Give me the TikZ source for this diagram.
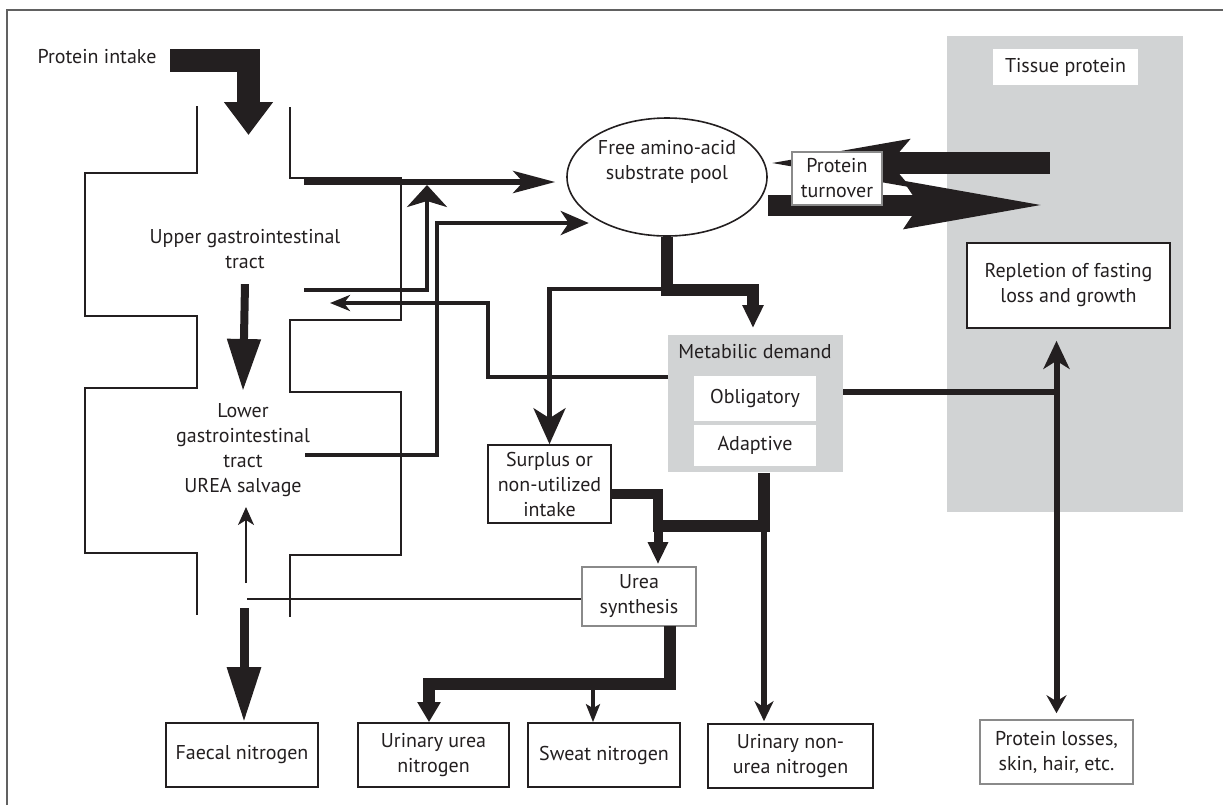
\documentclass[tikz,border=0pt]{standalone}
\usepackage{fontspec}
\setmainfont{PT Sans}
\usepackage{xcolor}
\usetikzlibrary{
    arrows.meta,
    calc,
    shapes.geometric,
    positioning
}
\definecolor{ink}{HTML}{231F20}
\definecolor{panel}{HTML}{D1D3D4}
\definecolor{rim}{HTML}{8A8A8A}
\tikzset{
    box/.style={draw=ink, line width=0.8pt, fill=white, align=center, inner sep=1pt, text=ink},
    softbox/.style={box, draw=rim},
    tag/.style={align=center, text=ink, inner sep=0pt},
    flow/.style={draw=ink, line width=2.2pt},
    heavy/.style={draw=ink, line width=6pt},
    tract/.style={draw=ink, line width=0.8pt}
}

\begin{document}
\begin{tikzpicture}[x=0.5pt, y=-0.5pt, font=\fontsize{10}{12.5}\selectfont]
    \useasboundingbox (0,0) rectangle (1223,805);
    \draw[rim!70!black, line width=1pt] (7,805) -- (7,10) -- (1223,10);

    % panels
    \node[fill=panel, anchor=north west, minimum width=118pt, minimum height=238pt] (tissue) at (947,36) {};
    \node[fill=white, minimum width=72.5pt, minimum height=18pt, text=ink] (tisslab) at (1065.5,67) {Tissue protein};
    \node[fill=panel, anchor=north west, minimum width=87.5pt, minimum height=68.5pt] (metab) at (668,335) {};
    \node[tag] (metlab) at (755,352) {Metabilic demand};
    \node[fill=white, minimum width=61pt, minimum height=22.5pt, text=ink] (oblig) at (755,398.5) {Obligatory};
    \node[fill=white, minimum width=61pt, minimum height=20.5pt, text=ink] (adapt) at (755,445.5) {Adaptive};

    % gut
    \draw[tract] (197,106) |- (85,173) |- (197,316) |- (85,388) |- (197,553) -- (197,615);
    \draw[tract] (290,107) |- (401,178) |- (290,320) |- (401,392) |- (290,555) -- (290,617);
    \node[tag] (intake) at (97,57) {Protein intake};
    \node[tag] (upper) at (245,249) {Upper gastrointestinal\\tract};
    \node[tag] (lower) at (243,450) {Lower\\gastrointestinal\\tract\\UREA salvage};

    % boxes
    \node[ellipse, draw=ink, line width=0.8pt, minimum width=100pt, minimum height=59pt, inner sep=0pt, align=center, text=ink] (pool) at (667,177) {Free amino-acid\\substrate pool\\[5pt]};
    \node[box, minimum width=101.5pt, minimum height=42.5pt] (replete) at (1068.5,285.5) {Repletion of fasting\\loss and growth};
    \node[box, minimum width=61.5pt, minimum height=39pt] (surplus) at (549.5,484) {Surplus or\\non-utilized\\intake};
    \node[softbox, minimum width=57pt, minimum height=29.5pt] (urea) at (639,596.5) {Urea\\synthesis};
    \node[box, minimum width=76pt, minimum height=32pt] (faecal) at (242,755) {Faecal nitrogen};
    \node[box, minimum width=75.5pt, minimum height=32pt] (urinary) at (433.5,755) {Urinary urea\\nitrogen};
    \node[box, minimum width=76pt, minimum height=32pt] (sweat) at (604,755) {Sweat nitrogen};
    \node[box, minimum width=82.5pt, minimum height=32pt] (nonurea) at (790.5,756) {Urinary non-\\urea nitrogen};
    \node[softbox, minimum width=76.5pt, minimum height=32pt] (losses) at (1056.5,752) {Protein losses,\\skin, hair, etc.};

    % bends and free ends
    \coordinate (inA) at (170,60.5);
    \coordinate (gitop) at (248.5,135);
    \coordinate (ugA) at (304,182);
    \coordinate (ugB) at (304,290);
    \coordinate (ugJ) at (427,185);
    \coordinate (lgA) at (305,455);
    \coordinate (lgB) at (437,223);
    \coordinate (mA) at (668,377);
    \coordinate (ugRet) at (488,303);
    \coordinate (ugIn) at (330,303);
    \coordinate (metA) at (753,290);
    \coordinate (fork) at (664,289);
    \coordinate (oblOut) at (843,392);
    \coordinate (spA) at (611,494);
    \coordinate (spB) at (658,526);
    \coordinate (merge) at (764,526);
    \coordinate (mergeL) at (653,526);
    \coordinate (salv) at (247,599);
    \coordinate (saUp) at (246,583);
    \coordinate (saDn) at (244,608);
    \coordinate (ureaOut) at (670,626);
    \coordinate (uBend) at (429,684);
    \coordinate (swTop) at (593,684);
    \coordinate (tisL) at (1050,163);
    \coordinate (tisR) at (1048,205);

    % intake into the gut
    \draw[ink, line width=11.5pt, -{Triangle[width=23.5pt,length=16.5pt]}] (inA) -| (gitop);
    \draw[ink, line width=4pt, -{Triangle[width=16pt,length=26pt]}] ([yshift=-7.5pt]upper.south) -- ([yshift=6pt]lower.north);

    % absorption to the pool
    \draw[flow, line width=2.8pt, shorten >=5.5pt, -{Stealth[length=21pt,width=11pt,inset=5pt]}] (ugA) -- (ugA -| pool.west);
    \draw[flow, -{Stealth[length=11pt,width=20pt,inset=3pt]}] (ugB) -| (ugJ);
    \draw[flow, shorten >=3pt, -{Stealth[length=14pt,width=12pt,inset=4pt]}] (lgA) -| (lgB) -- (lgB -| pool.210);
    \draw[flow, line width=2.3pt, -{Stealth[length=10pt,width=8pt,inset=3pt]}] (mA) -| (ugRet) -- (ugIn);

    % protein turnover
    \draw[ink, line width=11pt, {Stealth[length=70pt,width=22pt,inset=8pt]}-] (pool.8 |- tisL) -- (tisL);
    \draw[ink, line width=10.5pt, -{Stealth[length=70pt,width=22pt,inset=6pt]}] (pool.east |- tisR) -- (tisR);
    \node[softbox, minimum width=45pt, minimum height=26.5pt] (turn) at (837,178.5) {Protein\\turnover};

    % pool to demand and surplus
    \draw[heavy, shorten >=3.5pt, -{Triangle[width=10pt,length=11.5pt]}] (pool.south) |- (metA) -- (metA |- metab.north);
    \draw[flow, -{Stealth[length=18pt,width=16pt,inset=5pt]}] (fork) -| (surplus.north);
    \draw[flow, line width=3pt] (oblOut) -- (oblOut -| losses.north);
    \draw[flow, line width=3pt, shorten <=6pt, shorten >=3pt, {Stealth[length=14pt,width=13pt,inset=4pt]}-{Stealth[length=9pt,width=10pt,inset=3pt]}] (losses.north |- replete.south) -- (losses.north);

    % to urea synthesis
    \draw[ink, line width=5pt] (spA) -| (spB);
    \draw[heavy] (metab.south -| merge) -- (merge) -- (mergeL);
    \draw[ink, line width=4.5pt, shorten >=1pt, -{Triangle[width=9.5pt,length=11pt]}] ([yshift=3pt]spB) -- (spB |- urea.north);
    \draw[flow, line width=3pt, shorten >=1pt, -{Stealth[length=10pt,width=9.5pt,inset=3pt]}] (merge) -- (merge |- nonurea.north);

    % urea salvage and losses
    \draw[ink, line width=1.3pt] (urea.west |- salv) -- (salv);
    \draw[ink, line width=1pt, shorten >=5pt, -{Stealth[length=9pt,width=8pt,inset=2.5pt]}] (saUp) -- (saUp |- lower.south);
    \draw[ink, line width=4.5pt, -{Triangle[width=16pt,length=27.5pt]}] (saDn) -- (saDn |- faecal.north);
    \draw[heavy, -{Triangle[width=11pt,length=10pt]}] (ureaOut) |- (uBend) -- (uBend |- urinary.north);
    \draw[ink, line width=1.8pt, -{Stealth[length=9pt,width=7pt,inset=2pt]}] (swTop) -- (swTop |- sweat.north);
\end{tikzpicture}
\end{document}
